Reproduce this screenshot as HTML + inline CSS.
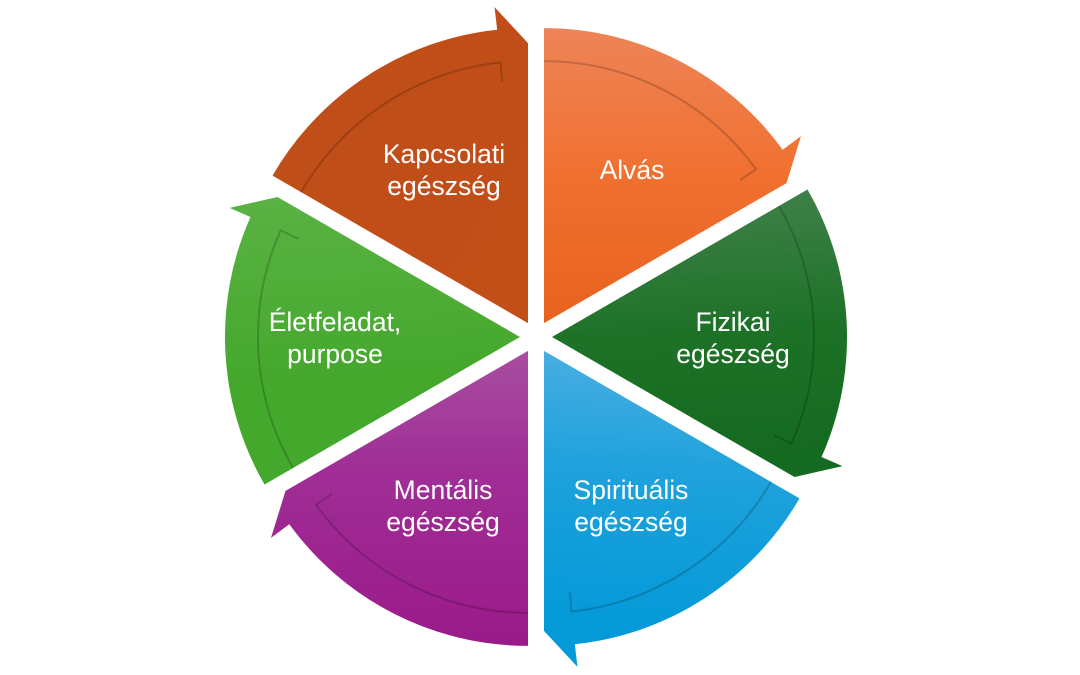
<!DOCTYPE html>
<html><head><meta charset="utf-8"><style>
html,body{margin:0;padding:0;background:#fff;width:1080px;height:675px;overflow:hidden}
svg{display:block}
text{font-family:"Liberation Sans",sans-serif;font-size:26.5px;fill:#fff;text-anchor:middle}
</style></head><body>
<svg width="1080" height="675" viewBox="0 0 1080 675" xmlns="http://www.w3.org/2000/svg">
<defs>
<linearGradient id="gO" x1="0" y1="0" x2="0" y2="1"><stop offset="0" stop-color="#EE8458"/><stop offset="0.5" stop-color="#F07030"/><stop offset="1" stop-color="#E8621E"/></linearGradient>
<linearGradient id="gG" x1="0" y1="0" x2="0.87" y2="0.5"><stop offset="0" stop-color="#3F8048"/><stop offset="0.5" stop-color="#1E7228"/><stop offset="1" stop-color="#146A20"/></linearGradient>
<linearGradient id="gB" x1="0" y1="1" x2="0.87" y2="0.5"><stop offset="0" stop-color="#48AEE2"/><stop offset="0.4" stop-color="#20A2DC"/><stop offset="1" stop-color="#049AD8"/></linearGradient>
<linearGradient id="gP" x1="0" y1="0" x2="0" y2="1"><stop offset="0" stop-color="#9A1A8A"/><stop offset="0.6" stop-color="#A02E96"/><stop offset="1" stop-color="#A84EA0"/></linearGradient>
<linearGradient id="gL" x1="1" y1="1" x2="0.13" y2="0.5"><stop offset="0" stop-color="#62B64C"/><stop offset="1" stop-color="#44A82C"/></linearGradient>
<linearGradient id="gK" x1="0" y1="0" x2="0" y2="1"><stop offset="0" stop-color="#C04E18"/><stop offset="1" stop-color="#C24E18"/></linearGradient>
<g id="w">
<path d="M0,0 L0,-295 A295,295 0 0 1 238.7,-173.4 L257,-187 L242.5,-140 Z"/>
</g>
<g id="s" fill="none" stroke="#000" stroke-opacity="0.18" stroke-width="2">
<path d="M0,-262 A262,262 0 0 1 212,-154 L196,-143"/>
</g>
</defs>
<g transform="translate(536,337)">
<g transform="rotate(0) translate(8,-13.86)"><use href="#w" fill="url(#gO)"/><use href="#s"/></g>
<g transform="rotate(60) translate(8,-13.86)"><use href="#w" fill="url(#gG)"/><use href="#s"/></g>
<g transform="rotate(120) translate(8,-13.86)"><use href="#w" fill="url(#gB)"/><use href="#s"/></g>
<g transform="rotate(180) translate(8,-13.86)"><use href="#w" fill="url(#gP)"/><use href="#s"/></g>
<g transform="rotate(240) translate(8,-13.86)"><use href="#w" fill="url(#gL)"/><use href="#s"/></g>
<g transform="rotate(300) translate(8,-13.86)"><use href="#w" fill="url(#gK)"/><use href="#s"/></g>
</g>
<text x="444" y="163">Kapcsolati</text>
<text x="444" y="195">egészség</text>
<text x="632" y="179">Alvás</text>
<text x="733" y="331">Fizikai</text>
<text x="733" y="363">egészség</text>
<text x="631" y="499">Spirituális</text>
<text x="631" y="531">egészség</text>
<text x="443" y="499">Mentális</text>
<text x="443" y="531">egészség</text>
<text x="335" y="331">Életfeladat,</text>
<text x="335" y="363">purpose</text>
</svg>
</body></html>
